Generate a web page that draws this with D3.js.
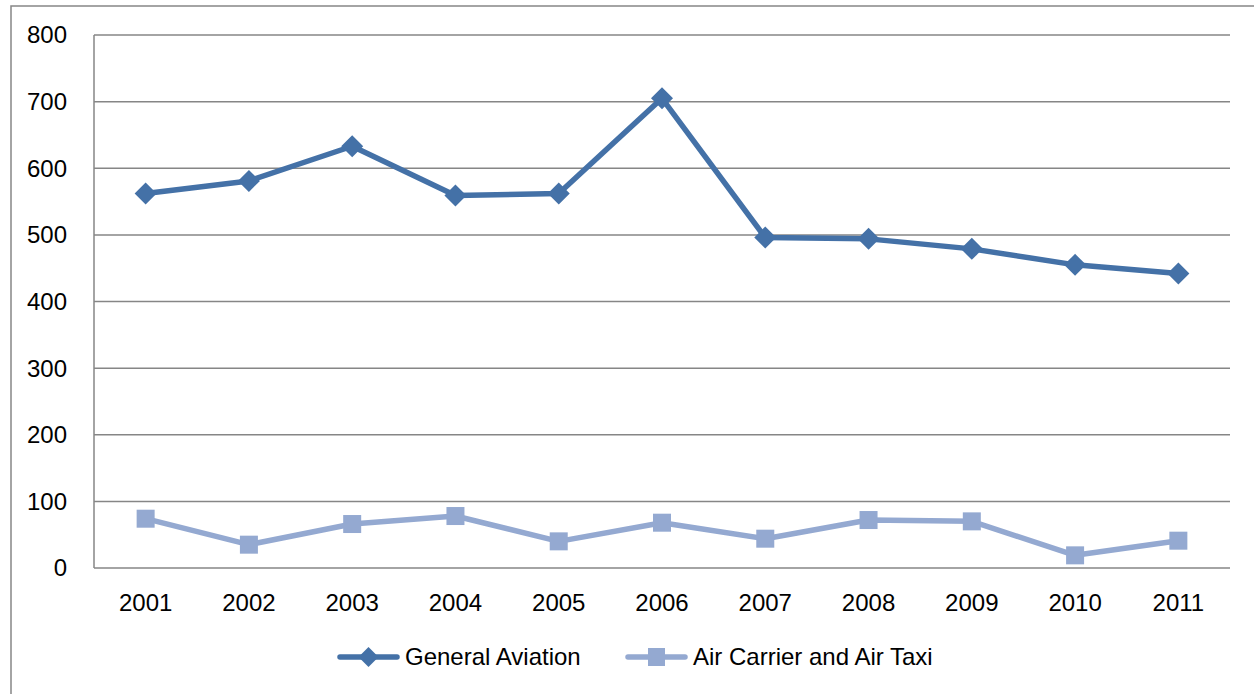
<!DOCTYPE html>
<html>
<head>
<meta charset="utf-8">
<script src="https://cdn.jsdelivr.net/npm/d3@7"></script>
<style>
  body { margin: 0; background: #fff; }
  text { font-family: "Liberation Sans", Arial, sans-serif; fill: #000; }
</style>
</head>
<body>
<script>
const years = ['2001','2002','2003','2004','2005','2006','2007','2008','2009','2010','2011'];
const generalAviation = [562, 581, 633, 559, 562, 705, 496, 494, 479, 455, 442];
const airCarrier = [74, 35, 66, 78, 40, 68, 44, 72, 70, 19, 41];
const yTicks = [0, 100, 200, 300, 400, 500, 600, 700, 800];

const width = 1254, height = 694;
const margin = {left: 94, right: 24, top: 35, bottom: 126};

const svg = d3.select('body').append('svg')
  .attr('width', width)
  .attr('height', height)

// outer frame (runs off the right/bottom edge like the source)
svg.append('rect')
  .attr('x', 11).attr('y', 6)
  .attr('width', 1300).attr('height', 800)
  .attr('fill', 'none')
  .attr('stroke', '#868686')
  .attr('stroke-width', 1.5)

const x = d3.scaleBand().domain(years).range([margin.left, width - margin.right])
const y = d3.scaleLinear().domain([0, 800]).range([height - margin.bottom, margin.top])

const g = svg.append('g')

// gridlines
g.selectAll('.grid')
  .data(yTicks)
  .enter().append('line')
  .attr('x1', margin.left).attr('x2', width - margin.right)
  .attr('y1', d => y(d)).attr('y2', d => y(d))
  .attr('stroke', '#868686')
  .attr('stroke-width', 1.5)

// y axis line
g.append('line')
  .attr('x1', margin.left).attr('x2', margin.left)
  .attr('y1', y(0)).attr('y2', y(800))
  .attr('stroke', '#868686')
  .attr('stroke-width', 1.5)

g.selectAll('.ylab')
  .data(yTicks)
  .enter().append('text')
  .attr('x', 67)
  .attr('y', d => y(d))
  .attr('dy', '0.35em')
  .attr('text-anchor', 'end')
  .style('font-size', '24px')
  .text(d => d)

g.selectAll('.xlab')
  .data(years)
  .enter().append('text')
  .attr('x', d => x(d) + x.bandwidth() / 2)
  .attr('y', 611)
  .attr('text-anchor', 'middle')
  .style('font-size', '24px')
  .text(d => d)

const cx = (d, i) => x(years[i]) + x.bandwidth() / 2;
const line = d3.line().x(cx).y(d => y(d))

const gaColor = '#4471a7';
const acColor = '#94a9d1';

g.append('path')
  .datum(airCarrier)
  .attr('d', line)
  .attr('fill', 'none')
  .attr('stroke', acColor)
  .attr('stroke-width', 5.5)
  .attr('stroke-linejoin', 'round')

g.selectAll('.sq')
  .data(airCarrier)
  .enter().append('rect')
  .attr('x', (d, i) => cx(d, i) - 9)
  .attr('y', d => y(d) - 9)
  .attr('width', 18).attr('height', 18)
  .attr('fill', acColor)

g.append('path')
  .datum(generalAviation)
  .attr('d', line)
  .attr('fill', 'none')
  .attr('stroke', gaColor)
  .attr('stroke-width', 5.5)
  .attr('stroke-linejoin', 'round')

const diamond = 'M0,-11L11,0L0,11L-11,0Z';
g.selectAll('.dm')
  .data(generalAviation)
  .enter().append('path')
  .attr('d', diamond)
  .attr('transform', (d, i) => 'translate(' + cx(d, i) + ',' + y(d) + ')')
  .attr('fill', gaColor)

// legend
const legendItems = [
  {name: 'General Aviation', color: gaColor, shape: 'diamond', x: 340},
  {name: 'Air Carrier and Air Taxi', color: acColor, shape: 'square', x: 628}
];
const legend = svg.selectAll('.legend')
  .data(legendItems)
  .enter().append('g')
  .attr('transform', d => 'translate(' + d.x + ',657)')

legend.append('line')
  .attr('x1', 0).attr('x2', 57)
  .attr('stroke', d => d.color)
  .attr('stroke-width', 5.5)
  .attr('stroke-linecap', 'round')

legend.append('path')
  .attr('d', d => d.shape === 'diamond' ? 'M28.5,-10L38.5,0L28.5,10L18.5,0Z' : 'M20,-9h17v18h-17Z')
  .attr('fill', d => d.color)

legend.append('text')
  .attr('x', 65)
  .attr('y', 0)
  .attr('dy', '0.35em')
  .style('font-size', '24px')
  .text(d => d.name)
</script>
</body>
</html>
